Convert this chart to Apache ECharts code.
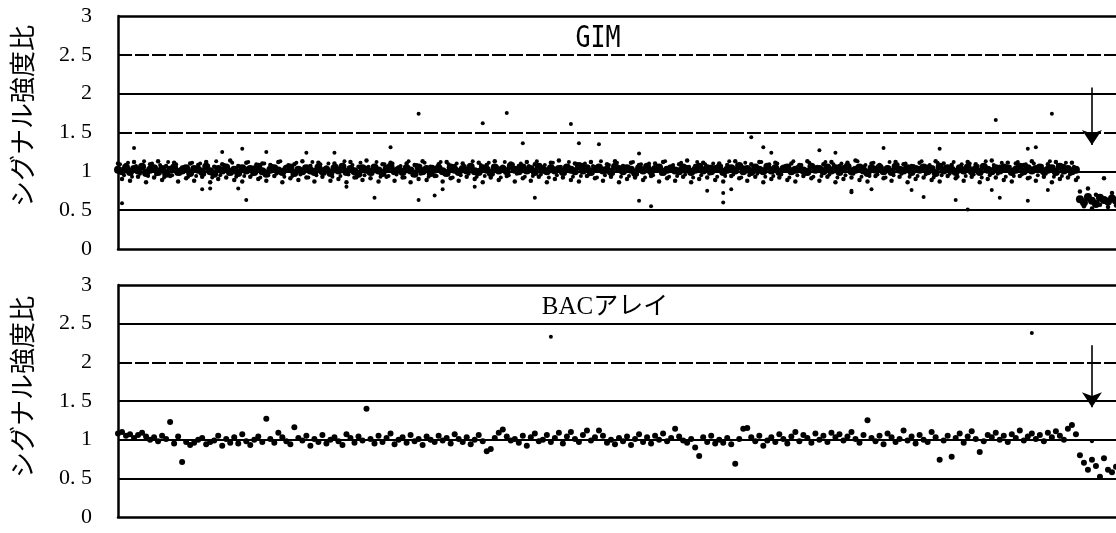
<!DOCTYPE html>
<html><head><meta charset="utf-8">
<script src="https://cdn.jsdelivr.net/npm/echarts@6/dist/echarts.min.js"></script>
<style>html,body{margin:0;padding:0;background:#fff}#c{width:1116px;height:533px}</style>
</head><body><div id="c"></div>
<script>
// ---- data ----
const yTickValues = [0, 0.5, 1, 1.5, 2, 2.5, 3];
const yTickLabels = ['0', '0. 5', '1', '1. 5', '2', '2. 5', '3'];
const axisTitle = 'シグナル強度比';
const topTitle = 'GIM';
const bottomTitle = 'BACアレイ';

// GIM panel: probe positions 0..239 (normal region), 240..249 (deleted region)
const gimCore = [
1.02,1.00,1.05,0.99,1.03,1.01,1.06,0.98,1.02,1.04,
0.99,1.03,0.97,1.02,1.05,0.99,1.01,1.04,0.98,1.03,
1.02,0.99,1.06,1.00,0.97,1.03,1.01,1.05,0.99,1.02,
0.98,1.04,1.01,1.03,0.99,1.06,1.00,0.97,1.02,1.04,
1.01,0.99,1.03,1.05,0.98,1.02,1.00,1.04,1.01,0.99,
1.05,1.00,1.02,0.98,1.04,1.01,1.06,0.99,1.03,1.00,
0.97,1.04,1.02,0.99,1.05,1.01,0.98,1.03,1.06,1.00,
1.02,0.99,1.04,1.01,0.97,1.05,1.00,1.03,0.98,1.02,
1.04,1.00,0.98,1.05,1.02,0.99,1.03,1.01,1.06,1.00,
0.99,1.04,1.02,0.98,1.05,1.01,1.03,1.00,1.07,1.02,
1.00,1.05,1.01,1.03,0.99,1.06,1.02,1.00,1.04,1.01,
1.03,0.99,1.05,1.02,1.00,1.07,1.01,1.04,0.99,1.03,
1.05,1.01,1.02,0.99,1.06,1.03,1.00,1.04,1.02,0.98,
1.04,1.01,1.06,1.00,1.03,1.05,0.99,1.02,1.04,1.01,
1.00,1.05,1.03,0.99,1.02,1.06,1.01,1.04,1.00,1.03,
1.05,0.99,1.02,1.04,1.01,1.07,1.00,1.03,0.99,1.05,
1.02,1.00,1.06,1.01,1.04,0.99,1.03,1.05,1.00,1.02,
1.04,1.01,0.99,1.06,1.02,1.03,1.00,1.05,1.01,1.04,
0.99,1.03,1.06,1.00,1.02,1.05,1.01,0.98,1.04,1.02,
1.05,1.00,1.03,0.99,1.06,1.02,1.01,1.04,0.99,1.03,
1.02,1.05,1.00,1.03,0.98,1.06,1.01,1.04,1.02,0.99,
1.04,1.01,1.05,1.00,1.03,0.99,1.06,1.02,1.00,1.04,
1.01,1.05,1.03,0.99,1.02,1.06,1.00,1.04,1.01,1.03,
1.05,1.00,1.02,1.04,0.99,1.06,1.01,1.03,1.00,1.02
];
const gimSpread = [
1.10,0.90,1.08,0.88,1.12,0.93,1.06,0.86,1.09,0.92,
1.13,0.89,1.07,0.94,1.11,0.87,1.05,0.91,1.10,0.88,
1.08,0.93,1.12,0.86,1.06,0.90,1.09,0.92,1.14,0.89,
1.07,0.87,1.11,0.93,1.05,0.90,1.10,0.88,1.08,0.94,
1.12,0.86,1.06,0.91,1.09,0.89,1.13,0.92,1.07,0.87,
1.11,0.93,1.05,0.88,1.10,0.90,1.08,0.86,1.12,0.92,
1.06,0.89,1.14,0.91,1.07,0.87,1.09,0.93,1.11,0.88,
1.05,0.92,1.10,0.86,1.08,0.90,1.13,0.89,1.06,0.94,
1.09,0.87,1.12,0.91,1.07,0.88,1.10,0.93,1.05,0.90,
1.11,0.86,1.08,0.92,1.13,0.89,1.06,0.94,1.10,0.87,
1.07,0.91,1.12,0.88,1.09,0.93,1.05,0.86,1.11,0.90,
1.14,0.92,1.06,0.89,1.10,0.87,1.08,0.94,1.12,0.91,
1.05,0.88,1.09,0.93,1.13,0.86,1.07,0.90,1.11,0.92,
1.08,0.89,1.06,0.94,1.10,0.87,1.12,0.91,1.05,0.88,
1.09,0.93,1.14,0.86,1.07,0.90,1.11,0.92,1.06,0.89,
1.10,0.87,1.08,0.94,1.13,0.91,1.05,0.88,1.09,0.93,
1.12,0.86,1.07,0.90,1.11,0.92,1.06,0.89,1.10,0.87,
1.08,0.94,1.13,0.91,1.05,0.88,1.09,0.93,1.12,0.86,
1.07,0.90,1.11,0.92,1.14,0.89,1.06,0.87,1.10,0.94,
1.08,0.91,1.05,0.88,1.12,0.93,1.09,0.86,1.07,0.90,
1.11,0.92,1.06,0.89,1.13,0.87,1.10,0.94,1.08,0.91,
1.05,0.88,1.12,0.93,1.09,0.86,1.07,0.90,1.14,0.92,
1.06,0.89,1.11,0.87,1.10,0.94,1.08,0.91,1.13,0.88,
1.05,0.93,1.09,0.86,1.12,0.90,1.07,0.92,1.11,0.89
];
const gimSpread2 = [
1.09,0.95,1.11,0.93,1.07,0.97,1.13,0.94,1.10,0.96,
1.08,0.92,1.12,0.95,1.09,0.97,1.06,0.93,1.11,0.94,
1.10,0.96,1.07,0.92,1.13,0.95,1.08,0.97,1.11,0.93,
1.06,0.94,1.12,0.96,1.09,0.92,1.10,0.95,1.07,0.97,
1.13,0.93,1.08,0.94,1.11,0.96,1.06,0.92,1.12,0.95,
1.09,0.97,1.10,0.93,1.07,0.94,1.13,0.96,1.08,0.92,
1.11,0.95,1.06,0.97,1.12,0.93,1.09,0.94,1.10,0.96,
1.07,0.92,1.13,0.95,1.08,0.97,1.11,0.93,1.06,0.94,
1.12,0.96,1.09,0.92,1.10,0.95,1.07,0.97,1.13,0.93,
1.08,0.94,1.11,0.96,1.06,0.92,1.12,0.95,1.09,0.97,
1.10,0.93,1.07,0.94,1.13,0.96,1.08,0.92,1.11,0.95,
1.06,0.97,1.12,0.93,1.09,0.94,1.10,0.96,1.07,0.92,
1.13,0.95,1.08,0.97,1.11,0.93,1.06,0.94,1.12,0.96,
1.09,0.92,1.10,0.95,1.07,0.97,1.13,0.93,1.08,0.94,
1.11,0.96,1.06,0.92,1.12,0.95,1.09,0.97,1.10,0.93,
1.07,0.94,1.13,0.96,1.08,0.92,1.11,0.95,1.06,0.97,
1.12,0.93,1.09,0.94,1.10,0.96,1.07,0.92,1.13,0.95,
1.08,0.97,1.11,0.93,1.06,0.94,1.12,0.96,1.09,0.92,
1.10,0.95,1.07,0.97,1.13,0.93,1.08,0.94,1.11,0.96,
1.06,0.92,1.12,0.95,1.09,0.97,1.10,0.93,1.07,0.94,
1.13,0.96,1.08,0.92,1.11,0.95,1.06,0.97,1.12,0.93,
1.09,0.94,1.10,0.96,1.07,0.92,1.13,0.95,1.08,0.97,
1.11,0.93,1.06,0.94,1.12,0.96,1.09,0.92,1.10,0.95,
1.07,0.97,1.13,0.93,1.08,0.94,1.11,0.96,1.06,0.92
];
const gimDelCore = [0.64,0.60,0.67,0.62,0.58,0.66,0.63,0.61,0.65,0.62];
const gimDelSpread = [0.74,0.55,0.78,0.52,0.70,0.57,0.91,0.54,0.72,0.56];
const gimOutliers = [
[4,1.30],[26,1.25],[31,1.29],[37,1.25],[47,1.24],[54,1.24],[68,1.31],[75,1.74],[91,1.62],
[1,0.59],[21,0.77],[23,0.78],[30,0.78],[32,0.63],[57,0.80],[64,0.66],[75,0.63],[79,0.69],[81,0.77],[89,0.80],
[97,1.75],[113,1.61],[101,1.36],[115,1.36],[120,1.35],[130,1.23],[158,1.44],[161,1.31],[163,1.24],[175,1.27],[179,1.24],
[104,0.66],[130,0.62],[133,0.55],[147,0.75],[151,0.72],[153,0.77],[151,0.60],[183,0.75],
[233,1.74],[219,1.66],[191,1.30],[205,1.29],[227,1.29],[229,1.31],
[183,0.73],[188,0.77],[198,0.76],[201,0.67],[209,0.63],[212,0.51],[218,0.76],[220,0.66],[227,0.62],[232,0.76]
];

// BAC array panel
const bacMain = [
1.08,1.10,1.05,1.07,1.02,1.06,1.09,1.04,1.00,1.03,
0.98,1.05,1.01,1.23,0.95,1.04,0.71,0.97,0.93,0.96,
1.00,1.02,0.94,0.97,0.99,1.05,0.92,1.01,0.96,1.03,
0.95,1.07,0.98,0.93,1.00,1.04,0.97,1.27,1.01,0.96,
1.09,1.03,0.98,0.94,1.16,1.02,0.99,1.05,0.92,1.01,
0.97,1.06,0.95,1.00,1.03,0.98,0.93,1.07,1.02,0.96,
1.04,0.99,1.40,1.01,0.95,1.05,0.97,1.02,1.08,0.94,
1.00,1.03,0.96,1.06,0.98,1.01,0.93,1.04,1.00,0.97,
1.05,0.99,1.02,0.95,1.07,1.01,0.97,1.03,0.94,1.00,
1.06,0.98,0.85,0.88,1.02,1.09,1.13,1.04,0.99,1.01,
0.96,1.05,0.92,1.03,1.08,0.98,1.00,1.06,0.97,1.02,
1.09,0.95,1.04,1.10,1.01,0.97,1.06,1.12,0.99,1.03,
1.12,1.05,0.96,1.00,0.94,1.02,0.98,1.04,0.93,1.01,
1.07,0.97,1.03,0.95,1.05,1.00,1.08,0.98,1.02,1.14,
1.04,0.99,0.96,1.01,0.90,0.79,1.03,0.97,1.05,0.95,
1.00,0.96,1.02,0.94,0.69,1.01,1.14,1.15,1.03,0.98,
1.05,0.92,0.99,1.03,0.97,1.07,1.01,0.95,1.04,1.10,
0.98,1.06,1.02,0.96,1.08,1.00,1.05,0.97,1.09,1.03,
1.07,0.99,1.04,1.10,1.01,0.96,1.06,1.25,1.02,0.98,
1.05,0.94,1.08,1.03,0.97,1.01,1.12,0.99,1.04,0.95,
1.06,1.00,0.97,1.10,1.03,0.74,0.99,1.05,0.78,1.02,
1.08,0.96,1.04,1.11,1.01,0.84,0.98,1.06,1.03,1.09,
1.00,1.05,0.97,1.07,1.02,1.12,0.99,1.04,1.08,1.01,
1.06,0.98,1.09,1.03,1.11,1.05,1.00,1.14,1.19,1.07
];
const bacDel = [0.80,0.70,0.61,0.74,0.66,0.52,0.76,0.61,0.58,0.65];
const bacOutliers = [[108,2.33],[228,2.38],[243,0.98]];

const delStart = 240;
const xMax = 249;
const arrowX = 243;
const gimArrow = [2.08, 1.34];
const bacArrow = [2.22, 1.42];
const gimGrid = [{v:3,t:'solid'},{v:2.5,t:'dashed'},{v:2,t:'solid'},{v:1.5,t:'dashed'},{v:1,t:'solid'},{v:0.5,t:'solid'}];
const bacGrid = [{v:3,t:'solid'},{v:2.5,t:'solid'},{v:2,t:'dashed'},{v:1.5,t:'solid'},{v:1,t:'solid'},{v:0.5,t:'solid'}];

// ---- chart ----
const chart = echarts.init(document.getElementById('c'), null, {renderer:'canvas'});
const lbl = v => { const i = yTickValues.indexOf(v); return i >= 0 ? yTickLabels[i] : ''; };
const pairs = (arr, off) => arr.map((v, i) => [i + off, v]);

function yAx(gi) {
  return { type:'value', gridIndex:gi, min:0, max:3, interval:0.5,
    axisLine:{show:true, lineStyle:{color:'#000', width:2.5}},
    axisTick:{show:false}, splitLine:{show:false},
    axisLabel:{formatter:lbl, color:'#000', fontFamily:'Liberation Serif', fontSize:22, margin:26} };
}
function xAx(gi) {
  return { type:'value', gridIndex:gi, min:0, max:xMax,
    axisLine:{show:true, onZero:false, lineStyle:{color:'#000', width:2.5}},
    axisTick:{show:false}, axisLabel:{show:false}, splitLine:{show:false} };
}
function gridSeries(gi, levels) {
  return { type:'scatter', xAxisIndex:gi, yAxisIndex:gi, data:[], silent:true, z:1,
    markLine:{ silent:true, symbol:['none','none'], label:{show:false}, animation:false,
      data: levels.map(g => ({ yAxis:g.v, lineStyle:{color:'#000', width: g.v===3?2.5:1.8, type: g.t==='dashed'?[14,3]:'solid'} })) } };
}
function arrowSeries(gi, a) {
  return { type:'scatter', xAxisIndex:gi, yAxisIndex:gi, data:[], silent:true, z:5,
    markLine:{ silent:true, symbol:['none','arrow'], symbolSize:15, label:{show:false}, animation:false,
      lineStyle:{color:'#000', width:1.6, type:'solid'},
      data:[[{coord:[arrowX, a[0]], symbol:'none'},{coord:[arrowX, a[1]], symbol:'arrow', symbolSize:15}]] } };
}
const dot = (gi, data, size) => ({ type:'scatter', xAxisIndex:gi, yAxisIndex:gi, data, symbol:'circle',
  symbolSize:size, itemStyle:{color:'#000', opacity:1}, silent:true, z:3, animation:false });

chart.setOption({
  animation:false,
  backgroundColor:'#fff',
  grid:[{left:118, top:16, height:233, right:-10},{left:118, top:285, height:232, right:-10}],
  xAxis:[xAx(0), xAx(1)],
  yAxis:[yAx(0), yAx(1)],
  series:[
    gridSeries(0, gimGrid), gridSeries(1, bacGrid),
    dot(0, pairs(gimSpread, 0), 4.5),
    dot(0, pairs(gimSpread2, 0.5), 4),
    dot(0, pairs(gimCore, 0), 8),
    dot(0, pairs(gimDelSpread, delStart), 4.5),
    dot(0, pairs(gimDelCore, delStart), 8),
    dot(0, gimOutliers, 4),
    dot(1, pairs(bacMain, 0), 6),
    dot(1, pairs(bacDel, delStart), 6),
    dot(1, bacOutliers, 4),
    arrowSeries(0, gimArrow), arrowSeries(1, bacArrow)
  ],
  graphic:[
    {type:'text', x:22, y:116, rotation:Math.PI/2, style:{text:axisTitle, fill:'#000', font:'26px "Noto Sans CJK JP"', align:'center', verticalAlign:'middle'}},
    {type:'text', x:598, y:39, scaleY:1.2, style:{text:topTitle, fill:'#000', font:'25px "DejaVu Sans Mono"', align:'center', verticalAlign:'middle'}},
    {type:'text', x:605, y:307, style:{text:bottomTitle, fill:'#000', font:'25px "Liberation Serif", "Noto Sans CJK JP"', align:'center', verticalAlign:'middle'}},
    {type:'text', x:22, y:387, rotation:Math.PI/2, style:{text:axisTitle, fill:'#000', font:'26px "Noto Sans CJK JP"', align:'center', verticalAlign:'middle'}}
  ]
});
</script></body></html>
